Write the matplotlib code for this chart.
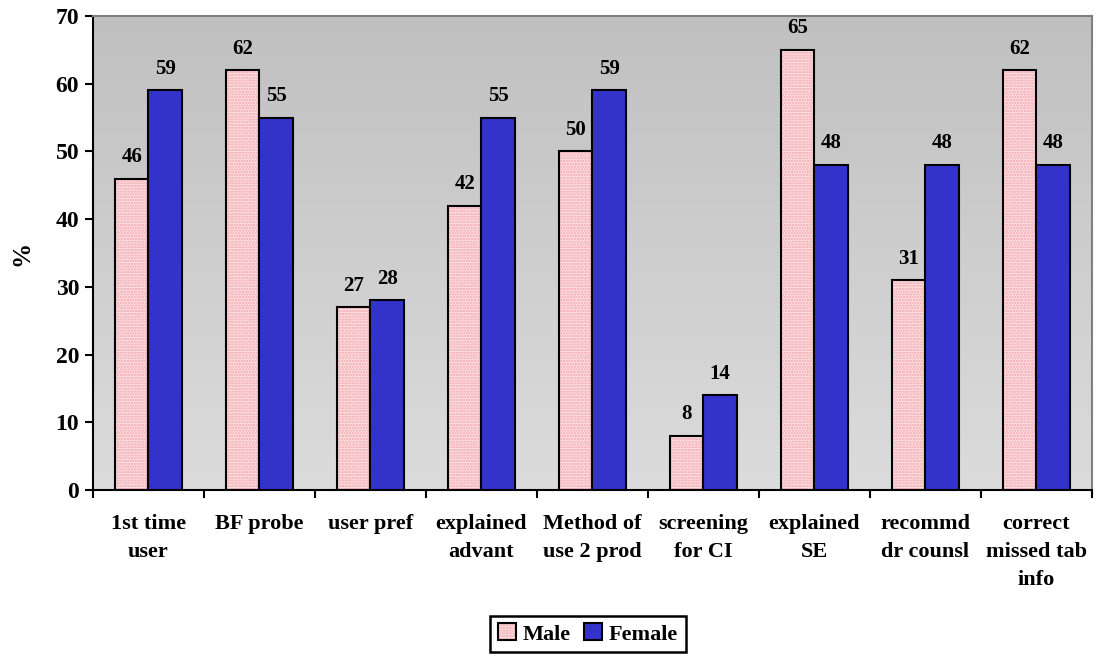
import matplotlib.pyplot as plt
import numpy as np
from matplotlib.colors import LinearSegmentedColormap
from matplotlib.patches import Patch

# Dados do gráfico
categorias = ['1st time\nuser', 'BF probe', 'user pref', 'explained\nadvant',
              'Method of\nuse 2 prod', 'screening\nfor CI', 'explained\nSE',
              'recommd\ndr counsl', 'correct\nmissed tab\ninfo']
masculino = [46, 62, 27, 42, 50, 8, 65, 31, 62]
feminino = [59, 55, 28, 55, 59, 14, 48, 48, 48]

plt.rcParams['font.family'] = ['Liberation Serif', 'DejaVu Serif']
plt.rcParams['font.weight'] = 'bold'
plt.rcParams['hatch.linewidth'] = 1.2

fig = plt.figure(figsize=(10.98, 6.58), dpi=100)
ax = fig.add_axes([0.0847, 0.2553, 0.9098, 0.7204])

x = np.arange(len(categorias))
largura = 0.3
rosa_fundo = '#fde6e8'
rosa_ponto = '#f2a0a8'

# Fundo em degradê cinza
gradiente = np.linspace(0, 1, 256).reshape(-1, 1)
cmap_fundo = LinearSegmentedColormap.from_list('fundo', ['#c0c0c0', '#dcdcdc'])
ax.imshow(gradiente, extent=[-0.5, len(categorias) - 0.5, 0, 70], aspect='auto',
          cmap=cmap_fundo, origin='upper', zorder=0)

# Barras masculinas com textura pontilhada
ax.bar(x - largura / 2, masculino, largura, color=rosa_fundo, hatch='......',
       edgecolor=rosa_ponto, linewidth=0, zorder=2)
ax.bar(x - largura / 2, masculino, largura, fill=False, edgecolor='black',
       linewidth=1.5, zorder=3)
ax.bar(x + largura / 2, feminino, largura, color='#3333cc', edgecolor='black',
       linewidth=1.5, zorder=3)

# Rótulos de valor
for i in range(len(categorias)):
    ax.text(x[i] - largura / 2, masculino[i] + 1.7, str(masculino[i]), ha='center',
            va='bottom', fontsize=15, fontweight='bold')
    ax.text(x[i] + largura / 2, feminino[i] + 1.7, str(feminino[i]), ha='center',
            va='bottom', fontsize=15, fontweight='bold')

ax.set_xlim(-0.5, len(categorias) - 0.5)
ax.set_ylim(0, 70)
ax.set_yticks(range(0, 71, 10))
ax.set_xticks(x)
ax.set_xticklabels(categorias, fontsize=16, fontweight='bold', va='top', linespacing=1.55)
ax.set_xticks(np.arange(-0.5, len(categorias), 1), minor=True)
ax.tick_params(axis='x', which='major', length=0, pad=17)
ax.tick_params(axis='x', which='minor', length=6, width=1.5, direction='out')
ax.tick_params(axis='y', length=6, width=1.5, direction='out', labelsize=17, pad=4)
for lab in ax.get_yticklabels():
    lab.set_fontweight('bold')

ax.spines['left'].set_linewidth(1.5)
ax.spines['bottom'].set_linewidth(1.5)
ax.spines['top'].set_color('#808080')
ax.spines['right'].set_color('#808080')
ax.spines['top'].set_linewidth(1.5)
ax.spines['right'].set_linewidth(1.5)

ax.set_ylabel('%', fontsize=18, fontweight='bold', labelpad=16)

# Legenda (textura rosa sob contorno preto)
item_m = (Patch(facecolor=rosa_fundo, edgecolor=rosa_ponto, hatch='......', linewidth=0),
          Patch(fill=False, edgecolor='black', linewidth=1.5))
item_f = Patch(facecolor='#3333cc', edgecolor='black', linewidth=1.5)
leg = fig.legend(handles=[item_m, item_f], labels=['Male', 'Female'], loc='center',
                 bbox_to_anchor=(0.5355, 0.0365), ncol=2,
                 fancybox=False, edgecolor='black', framealpha=1,
                 prop={'size': 16, 'weight': 'bold'}, handlelength=0.8,
                 handleheight=0.8, handletextpad=0.3, columnspacing=0.6,
                 borderpad=0.35)
leg.get_frame().set_linewidth(1.8)

fig.savefig('out.png', dpi=100)
